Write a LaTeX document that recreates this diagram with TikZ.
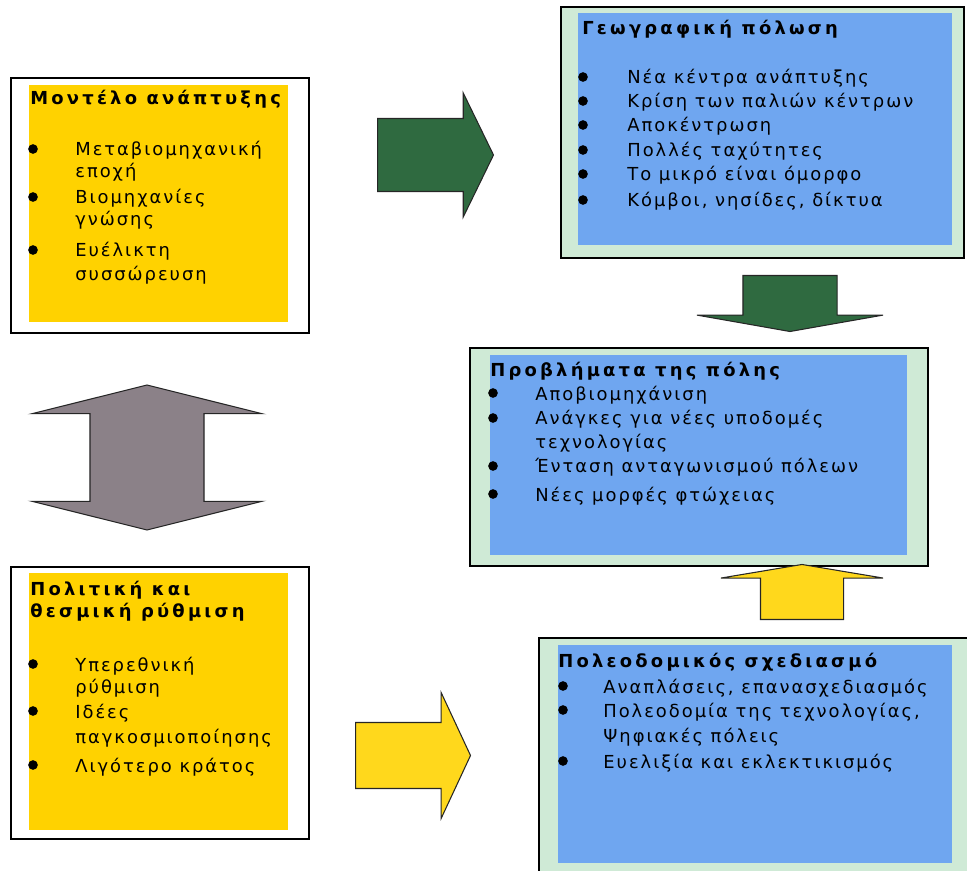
\documentclass[tikz,border=0pt]{standalone}
\usepackage{fontspec}
\setmainfont{DejaVu Sans}
\newfontfamily\grbody[LetterSpace=11]{DejaVu Sans}
\newfontfamily\grtitle[LetterSpace=18]{DejaVu Sans}
\usetikzlibrary{shapes.arrows}

\definecolor{boxyellow}{HTML}{FFD200}
\definecolor{boxblue}{HTML}{6FA6F0}
\definecolor{paleband}{HTML}{CFEAD6}
\definecolor{darkgreen}{HTML}{2F6A40}
\definecolor{arrowgrey}{HTML}{8B8188}
\definecolor{arrowyellow}{HTML}{FFD81C}

\tikzset{
  frame/.style={draw=black, line width=0.9pt, anchor=north west, inner sep=0pt},
  panel/.style={anchor=north west, inner sep=0pt},
  title/.style={font=\grtitle\bfseries\fontsize{10.2}{12}\selectfont, anchor=base west, inner sep=0pt},
  txt/.style={font=\grbody\fontsize{10.2}{12}\selectfont, anchor=base west, inner sep=0pt},
  dot/.style={circle, fill=black, inner sep=0pt, minimum size=5.5pt},
  blockarrow/.style={single arrow, draw=black!85, line width=0.6pt, inner xsep=0pt, anchor=tail},
}

\begin{document}
\begin{tikzpicture}[x=0.02cm, y=-0.02cm]
\useasboundingbox (0,0) rectangle (967,871);

% boxes
\node[frame, fill=white, minimum width=5.96cm, minimum height=5.10cm] (b1) at (10,77) {};
\node[panel, fill=boxyellow, minimum width=5.18cm, minimum height=4.74cm] (b1in) at (29,85) {};
\node[frame, fill=paleband, minimum width=8.06cm, minimum height=5.02cm] (b2) at (560,6) {};
\node[panel, fill=boxblue, minimum width=7.48cm, minimum height=4.64cm] (b2in) at (578,13) {};
\node[frame, fill=paleband, minimum width=9.16cm, minimum height=4.36cm] (b3) at (469,347) {};
\node[panel, fill=boxblue, minimum width=8.34cm, minimum height=4.00cm] (b3in) at (490,355) {};
\node[frame, fill=white, minimum width=5.96cm, minimum height=5.44cm] (b4) at (10,566) {};
\node[panel, fill=boxyellow, minimum width=5.18cm, minimum height=5.14cm] (b4in) at (29,573) {};
\node[frame, fill=paleband, minimum width=8.74cm, minimum height=4.96cm] (b5) at (538,637) {};
\node[panel, fill=boxblue, minimum width=7.88cm, minimum height=4.36cm] (b5in) at (558,645) {};

% texts, box 1
\node[title] (t1) at (30,105) {Μοντέλο ανάπτυξης};
\foreach \n/\y/\t in {1/156/Μεταβιομηχανική, 2/178/εποχή, 3/204/Βιομηχανίες,
  4/226/γνώσης, 5/257/Ευέλικτη, 6/281/συσσώρευση}
  \node[txt] (m\n) at (75,\y) {\t};
\foreach \y in {149,197,250}
  \node[dot] (md\y) at (33,\y) {};

% texts, box 2
\node[title] (t2) at (582,35) {Γεωγραφική πόλωση};
\foreach \n/\y/\t in {1/84/Νέα κέντρα ανάπτυξης, 2/108/Κρίση των παλιών κέντρων,
  3/132/Αποκέντρωση, 4/157/Πολλές ταχύτητες, 5/181/Το μικρό είναι όμορφο,
  6/207/{Κόμβοι, νησίδες, δίκτυα}}
  \node[txt] (g\n) at (627,\y) {\t};
\foreach \y in {77,101,125,150,174,200}
  \node[dot] (gd\y) at (583,\y) {};

% texts, box 3
\node[title] (t3) at (490,377) {Προβλήματα της πόλης};
\foreach \n/\y/\t in {1/400/Αποβιομηχάνιση, 2/425/Ανάγκες για νέες υποδομές,
  3/449/τεχνολογίας, 4/473/Ένταση ανταγωνισμού πόλεων, 5/501/Νέες μορφές φτώχειας}
  \node[txt] (p\n) at (535,\y) {\t};
\foreach \y in {393,418,466,494}
  \node[dot] (pd\y) at (493,\y) {};

% texts, box 4
\node[title] (t4a) at (30,595) {Πολιτική και};
\node[title] (t4b) at (30,617) {θεσμική ρύθμιση};
\foreach \n/\y/\t in {1/671/Υπερεθνική, 2/693/ρύθμιση, 3/718/Ιδέες,
  4/743/παγκοσμιοποίησης, 5/772/Λιγότερο κράτος}
  \node[txt] (r\n) at (75,\y) {\t};
\foreach \y in {664,711,765}
  \node[dot] (rd\y) at (33,\y) {};

% texts, box 5
\node[title] (t5) at (558,667) {Πολεοδομικός σχεδιασμό};
\foreach \n/\y/\t in {1/693/{Αναπλάσεις, επανασχεδιασμός}, 2/717/{Πολεοδομία της τεχνολογίας,},
  3/742/Ψηφιακές πόλεις, 4/768/Ευελιξία και εκλεκτικισμός}
  \node[txt] (s\n) at (603,\y) {\t};
\foreach \y in {686,710,761}
  \node[dot] (sd\y) at (563,\y) {};

% block arrows
\node[blockarrow, fill=darkgreen, minimum height=2.32cm, minimum width=2.46cm, inner ysep=0.72cm,
  single arrow head extend=0.51cm, single arrow tip angle=128] (a1) at (377,155) {};
\node[blockarrow, fill=darkgreen, rotate=-90, minimum height=1.12cm, minimum width=3.7cm, inner ysep=0.93cm,
  single arrow head extend=0.92cm, single arrow tip angle=160] (a2) at (790,275) {};
\node[blockarrow, fill=arrowyellow, minimum height=2.3cm, minimum width=2.5cm, inner ysep=0.65cm,
  single arrow head extend=0.6cm, single arrow tip angle=130] (a3) at (355,755.5) {};
\node[blockarrow, fill=arrowyellow, rotate=90, minimum height=1.1cm, minimum width=3.22cm, inner ysep=0.82cm,
  single arrow head extend=0.79cm, single arrow tip angle=161] (a4) at (802,620) {};
\node[double arrow, draw=black!85, line width=0.6pt, inner xsep=0pt, inner ysep=1.13cm, fill=arrowgrey,
  rotate=90, minimum height=2.9cm, minimum width=4.58cm,
  double arrow head extend=1.16cm, double arrow tip angle=152] (a5) at (147,457.5) {};
\end{tikzpicture}
\end{document}
